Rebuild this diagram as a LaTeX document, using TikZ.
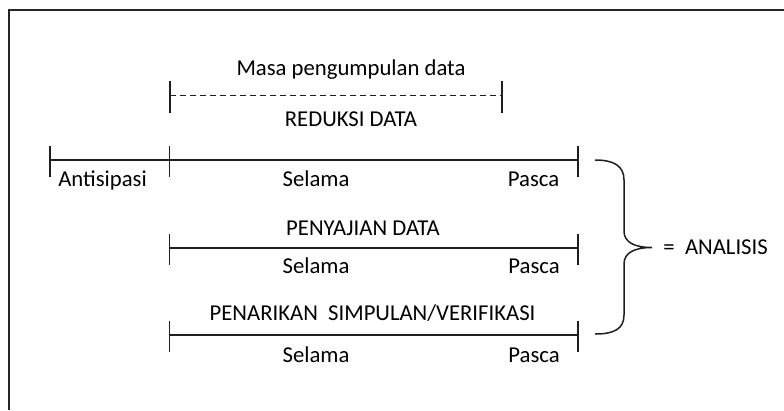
\documentclass[tikz,border=0pt]{standalone}
\usepackage{fontspec}
\setmainfont{Carlito}
\begin{document}
\begin{tikzpicture}[x=1pt,y=-1pt,
  lbl/.style={inner sep=0pt,anchor=base,font=\fontsize{22.7}{27}\selectfont,text=black},
  tl/.style={line width=1.5pt,draw=black!88},
  frame/.style={line width=2pt,draw=black!85}]
\useasboundingbox (0,0) rectangle (784,410);
% frame (cropped)
\coordinate (f1) at (9,410);
\coordinate (f2) at (9,9.5);
\coordinate (f3) at (784,9.5);
\draw[frame] (f1) -- (f2) -- (f3);

% dashed period
\coordinate (d1) at (170,95.5);
\coordinate (d2) at (502,95.5);
\draw[tl,dash pattern=on 6pt off 4pt] (d1) -- (d2);
\draw[tl] ([yshift=-17.5pt]d1) -- ([yshift=14.5pt]d1);
\draw[tl] ([yshift=-17.5pt]d2) -- ([yshift=14.5pt]d2);
\node[lbl] (masa) at (351,75) {Masa pengumpulan data};
\node[lbl] (red) at (351,126) {REDUKSI DATA};

% row 1
\coordinate (a0) at (50,160);
\coordinate (a1) at (169.5,160);
\coordinate (a2) at (578,160);
\draw[tl] (a0) -- (a2);
\foreach \c in {a0,a1,a2} \draw[tl] ([yshift=-17pt]\c) -- ([yshift=14pt]\c);
\node[lbl] (ant) at (102.5,186) {Antisipasi};
\node[lbl] (sel1) at (316,186) {Selama};
\node[lbl] (pas1) at (533.5,186) {Pasca};

% row 2
\coordinate (b1) at (169.5,248);
\coordinate (b2) at (578,248);
\draw[tl] (b1) -- (b2);
\foreach \c in {b1,b2} \draw[tl] ([yshift=-17pt]\c) -- ([yshift=14pt]\c);
\node[lbl] (pen) at (363,235) {PENYAJIAN DATA};
\node[lbl] (sel2) at (316,273) {Selama};
\node[lbl] (pas2) at (534,273) {Pasca};

% row 3
\coordinate (c1) at (169.5,335);
\coordinate (c2) at (578,335);
\draw[tl] (c1) -- (c2);
\foreach \c in {c1,c2} \draw[tl] ([yshift=-17pt]\c) -- ([yshift=14pt]\c);
\node[lbl] (tar) at (372.5,320) {PENARIKAN\ \ SIMPULAN/VERIFIKASI};
\node[lbl] (sel3) at (316,362) {Selama};
\node[lbl] (pas3) at (534,362) {Pasca};

% brace
\coordinate (bt) at (595,160);
\coordinate (bb) at (595,334);
\coordinate (tip) at (652,247.5);
\draw[tl] (bt) .. controls (614,160) and (624,166) .. (624,180)
  -- (624,231) .. controls (624,242) and (634,247.5) .. (tip)
  .. controls (634,247.5) and (624,253) .. (624,264)
  -- (624,315) .. controls (624,329) and (614,334) .. (bb);
\node[lbl,anchor=base east] (ana) at (768,254) {=\ \ ANALISIS};
\end{tikzpicture}
\end{document}
